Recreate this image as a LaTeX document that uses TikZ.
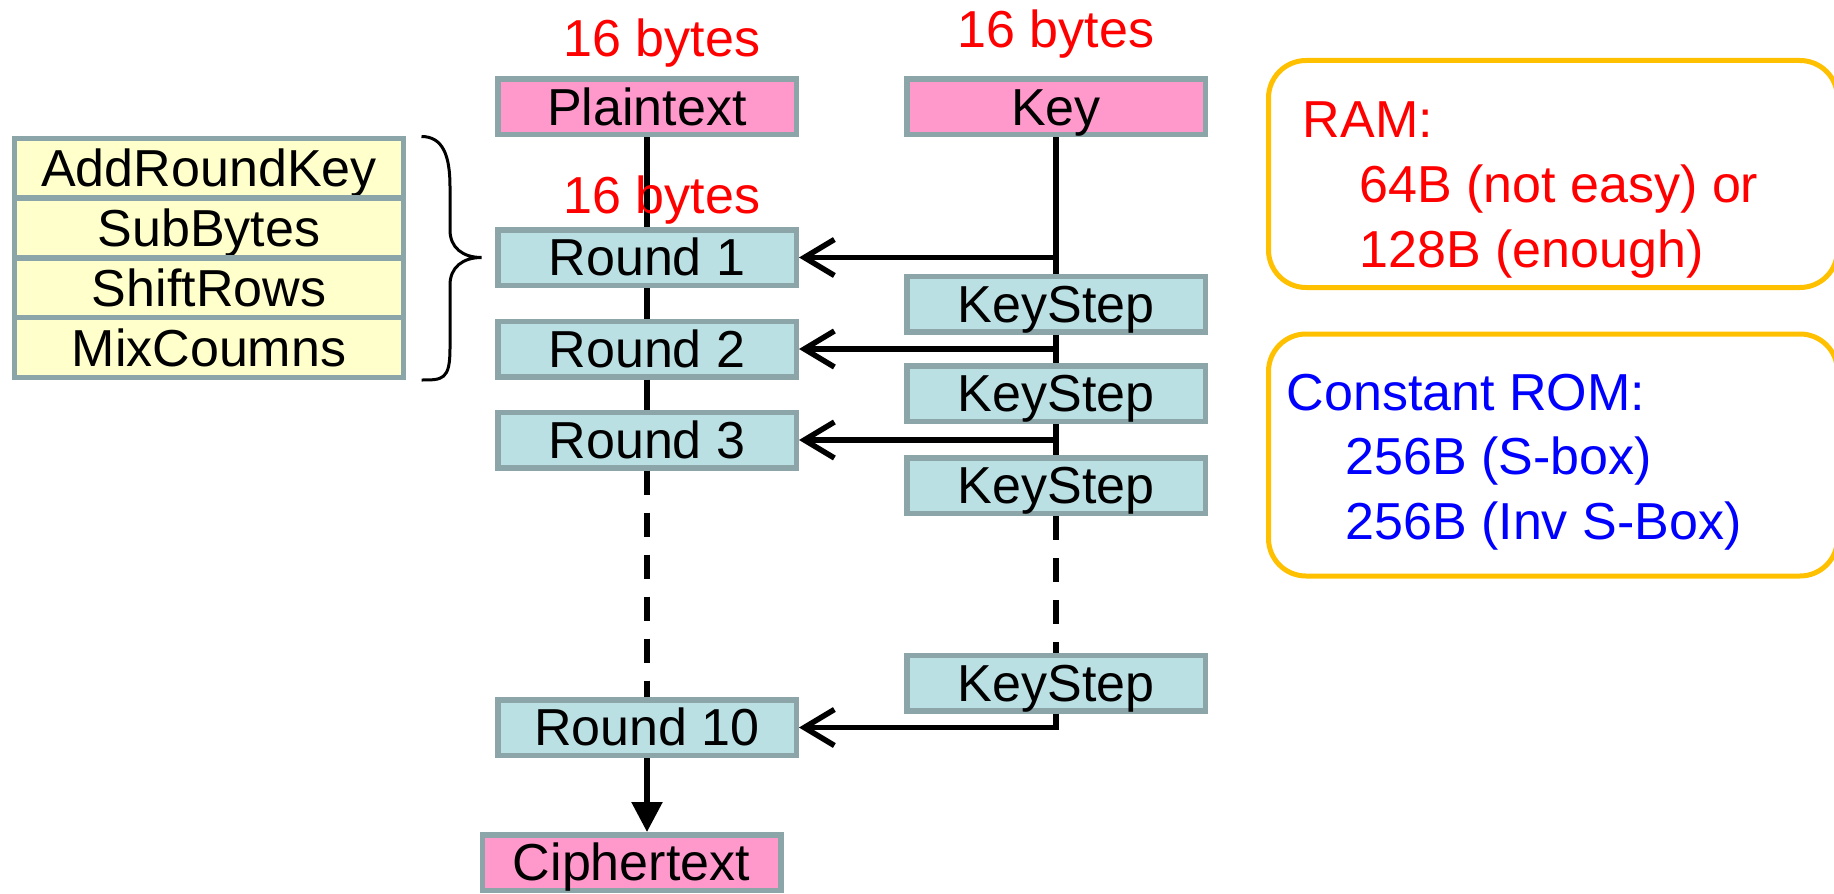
\documentclass[tikz,border=0pt]{standalone}
\usepackage{fontspec}
\setmainfont{Liberation Sans}
\usetikzlibrary{arrows.meta}

\definecolor{boxline}{RGB}{139,165,168}
\definecolor{roundfill}{RGB}{187,224,227}
\definecolor{iofill}{RGB}{255,153,204}
\definecolor{opfill}{RGB}{255,255,204}
\definecolor{memline}{RGB}{255,192,0}

\begin{document}
\begin{tikzpicture}[
    font=\fontsize{29.6}{35}\selectfont,
    box/.style={draw=boxline, line width=0.11cm, minimum width=5.97cm,
        minimum height=1.11cm, inner sep=0pt, text height=21pt, text depth=0pt},
    roundbox/.style={box, fill=roundfill},
    iobox/.style={box, fill=iofill},
    opbox/.style={box, fill=opfill, minimum width=7.77cm, minimum height=1.195cm},
    membox/.style={draw=memline, line width=0.1cm, rounded corners=0.75cm, inner sep=0pt},
    txt/.style={inner sep=0pt, text height=21pt, text depth=0pt},
    flow/.style={line width=0.11cm},
    gap/.style={flow, dash pattern=on 0.48cm off 0.36cm},
    keyarrow/.style={flow, -{Straight Barb[length=0.6cm, width=0.72cm]}},
]
    \useasboundingbox (0,0) rectangle (36.68,-17.87);

    % Column positions
    \def\rx{12.94} % rounds
    \def\kx{21.12} % key schedule

    % Inputs and output
    \node[iobox] (plain) at (\rx,-2.14) {Plaintext};
    \node[iobox] (key) at (\kx,-2.14) {Key};
    \node[iobox] (cipher) at (12.63,-17.25) {Ciphertext};

    % Rounds
    \foreach \i/\y in {1/-5.15, 2/-6.98, 3/-8.80}
        \node[roundbox] (r\i) at (\rx,\y) {Round \i};
    \node[roundbox] (r10) at (\rx,-14.55) {Round 10};

    % Key schedule
    \foreach \i/\y in {1/-6.08, 2/-7.87, 3/-9.71, 4/-13.66}
        \node[roundbox] (ks\i) at (\kx,\y) {KeyStep};

    % Steps of one round
    \foreach \op [count=\i] in {AddRoundKey, SubBytes, ShiftRows, MixCoumns}
        \node[opbox] (op\i) at (4.18,{-3.366-(\i-1)*1.195}) {\op};
    \draw[line width=0.06cm] (8.43,-2.73) .. controls (8.85,-2.73) and (9.0,-3.1) .. (9.0,-3.73)
        -- (9.0,-4.6) .. controls (9.0,-4.95) and (9.25,-5.15) .. (9.63,-5.15)
        .. controls (9.25,-5.15) and (9.0,-5.35) .. (9.0,-5.7)
        -- (9.0,-6.97) .. controls (9.0,-7.6) and (8.85,-7.6) .. (8.43,-7.6);

    % Data path
    \draw[flow] (plain) -- (r1);
    \draw[flow] (r1) -- (r2);
    \draw[flow] (r2) -- (r3);
    \draw[gap] (r3) -- (r10);
    \draw[flow, -{Triangle[length=0.6cm, width=0.6cm]}] (r10) -- (r10.south |- cipher.north);

    % Key path
    \draw[flow] (key) -- (ks1);
    \draw[flow] (ks1) -- (ks2);
    \draw[flow] (ks2) -- (ks3);
    \draw[gap] (ks3) -- (ks4);
    \draw[keyarrow] (key.south |- r1.east) -- (r1.east);
    \foreach \i [count=\j from 2] in {1,2}
        \draw[keyarrow] (ks\i.south |- r\j.east) -- (r\j.east);
    \draw[keyarrow] (ks4.south) |- (r10.east);

    % Sizes
    \node[txt, text=red] (bytesplain) at (13.24,-0.77) {16 bytes};
    \node[txt, text=red] (byteskey) at (\kx,-0.58) {16 bytes};
    \node[txt, text=red] (bytesround) at (13.24,-3.91) {16 bytes};

    % Memory
    \node[membox, minimum width=11.38cm, minimum height=4.54cm] (ram) at (31.06,-3.48) {};
    \node[membox, minimum width=11.38cm, minimum height=4.84cm] (rom) at (31.06,-9.10) {};
    \node[txt, anchor=west, text=red] (ramhead) at (26.05,-2.39) {RAM:};
    \node[txt, anchor=west, text=red] (ramsmall) at (27.18,-3.69) {64B (not easy) or};
    \node[txt, anchor=west, text=red] (ramlarge) at (27.18,-4.99) {128B (enough)};
    \node[txt, anchor=west, text=blue] (romhead) at (25.73,-7.85) {Constant ROM:};
    \node[txt, anchor=west, text=blue] (romsbox) at (26.90,-9.12) {256B (S-box)};
    \node[txt, anchor=west, text=blue] (rominv) at (26.90,-10.42) {256B (Inv S-Box)};
\end{tikzpicture}
\end{document}
